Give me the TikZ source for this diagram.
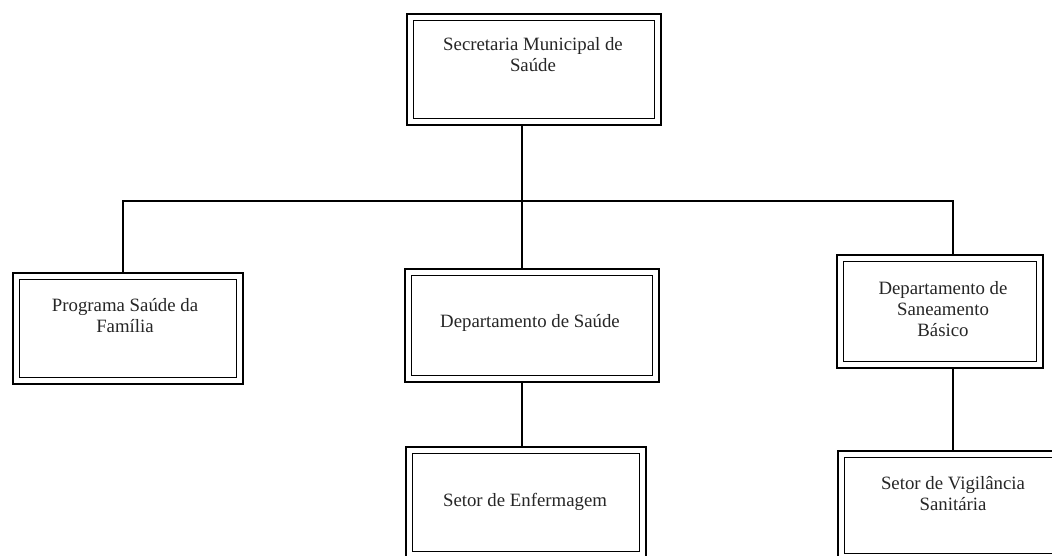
\documentclass[tikz,border=0pt]{standalone}
\usepackage{fontspec}
\setmainfont{Liberation Serif}
\begin{document}
\begin{tikzpicture}[x=1pt,y=-1pt,
  orgbox/.style={draw, line width=1.8pt, minimum width=#1, inner sep=0pt},
  orgtext/.style={align=center, font=\fontsize{18.8}{21}\selectfont, text=black!85},
  conn/.style={line width=1.3pt}]
\useasboundingbox[fill=white] (0,0) rectangle (1052,556);
% boxes
\node[orgbox=254pt, minimum height=111pt] (sec) at (534,69.5) {};
\node[orgbox=230pt, minimum height=111pt] (psf) at (128,328.5) {};
\node[orgbox=254pt, minimum height=113pt] (dsa) at (532,325.5) {};
\node[orgbox=206pt, minimum height=113pt] (dsb) at (940,311.5) {};
\node[orgbox=240pt, minimum height=111pt] (enf) at (526,502.5) {};
\node[orgbox=222pt, minimum height=109pt] (vig) at (949,505.5) {};
\foreach \n in {sec,psf,dsa,dsb,enf,vig}
  \draw[line width=1.2pt] ([shift={(7.5pt,7.5pt)}]\n.south west) rectangle ([shift={(-7.5pt,-7.5pt)}]\n.north east);
% texts
\node[orgtext] (tsec) at (533,55) {Secretaria Municipal de\\Saúde};
\node[orgtext] (tpsf) at (125,316) {Programa Saúde da\\Família};
\node[orgtext] (tdsa) at (530,323) {Departamento de Saúde};
\node[orgtext] (tdsb) at (943,309) {Departamento de\\Saneamento\\Básico};
\node[orgtext] (tenf) at (525,502) {Setor de Enfermagem};
\node[orgtext] (tvig) at (953,494) {Setor de Vigilância\\Sanitária};
% junctions
\coordinate (jl) at (123,201);
\coordinate (jm) at (522,201);
\coordinate (jr) at (953,201);
% connectors
\draw[conn] (jm |- sec.south) -- (jm);
\draw[conn] (jl |- psf.north) -- (jl) -- (jr) -- (jr |- dsb.north);
\draw[conn] (jm) -- (jm |- dsa.north);
\draw[conn] (jm |- dsa.south) -- (jm |- enf.north);
\draw[conn] (jr |- dsb.south) -- (jr |- vig.north);
\end{tikzpicture}
\end{document}
